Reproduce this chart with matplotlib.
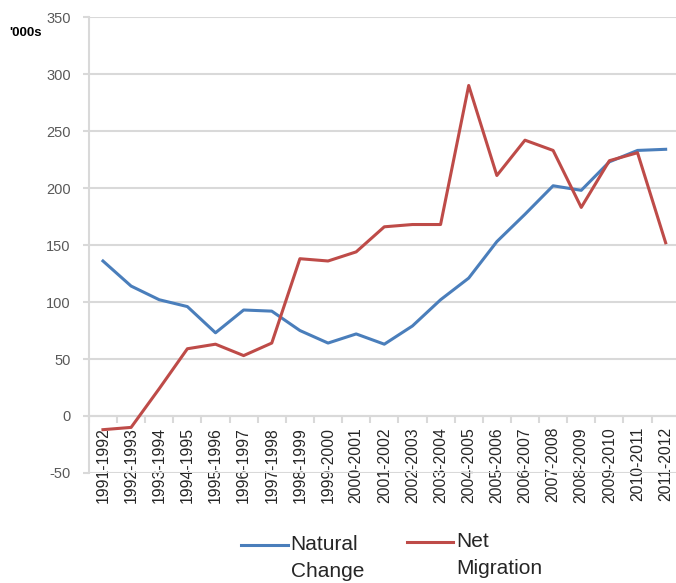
import matplotlib
matplotlib.use('Agg')
import matplotlib.pyplot as plt
from matplotlib.lines import Line2D

periods = ['1991-1992', '1992-1993', '1993-1994', '1994-1995', '1995-1996',
           '1996-1997', '1997-1998', '1998-1999', '1999-2000', '2000-2001',
           '2001-2002', '2002-2003', '2003-2004', '2004-2005', '2005-2006',
           '2006-2007', '2007-2008', '2008-2009', '2009-2010', '2010-2011',
           '2011-2012']
natural_change = [136, 114, 102, 96, 73, 93, 92, 75, 64, 72, 63, 79, 102, 121,
                  153, 177, 202, 198, 223, 233, 234]
net_migration = [-12, -10, 24, 59, 63, 53, 64, 138, 136, 144, 166, 168, 168, 290,
                 211, 242, 233, 183, 224, 231, 152]
y_ticks = [-50, 0, 50, 100, 150, 200, 250, 300, 350]

blue = '#4a7ebb'
red = '#be4b48'
grid_c = '#d9d9d9'
text_c = '#595959'

plt.rcParams['font.family'] = ['Liberation Sans', 'DejaVu Sans']
plt.rcParams['axes.unicode_minus'] = False

fig = plt.figure(figsize=(6.76, 5.83), dpi=100)
ax = fig.add_axes([0.1315, 0.1887, 0.874, 0.782])

x = list(range(len(periods)))
ax.plot(x, natural_change, color=blue, lw=2.2, zorder=3)
ax.plot(x, net_migration, color=red, lw=2.2, zorder=3)

ax.set_xlim(-0.5, len(periods) - 0.5)
ax.set_ylim(-50, 350)
ax.set_yticks(y_ticks)
ax.yaxis.grid(True, color=grid_c, lw=1.5, zorder=0)
ax.set_axisbelow(True)

for s in ['top', 'right']:
    ax.spines[s].set_visible(False)
ax.spines['left'].set_color(grid_c)
ax.spines['left'].set_linewidth(1.5)
ax.spines['bottom'].set_position(('data', 0))
ax.spines['bottom'].set_color(grid_c)
ax.spines['bottom'].set_linewidth(1.5)
ax.spines['bottom'].set_zorder(1)

ax.set_xticks(x)
ax.set_xticklabels(periods, rotation=90, fontsize=11.3, color='#262626')
ax.set_xticks([i - 0.5 for i in range(len(periods) + 1)], minor=True)
ax.tick_params(axis='x', which='major', length=0, pad=8)
ax.tick_params(axis='x', which='minor', length=5, width=1.5, color=grid_c)
ax.tick_params(axis='y', length=4, width=1.5, color=grid_c, pad=9,
               labelsize=10.5, labelcolor=text_c)

fig.text(0.013, 0.944, "'000s", fontsize=9.5, fontweight='bold', va='center')

# legend drawn by hand so the line sits beside the first text line
fig.add_artist(Line2D([0.357, 0.426], [0.065, 0.065], color=blue, lw=2.2))
fig.text(0.430, 0.083, 'Natural\nChange', fontsize=15, color='#262626',
         va='top', ha='left', linespacing=1.58)
fig.add_artist(Line2D([0.602, 0.670], [0.070, 0.070], color=red, lw=2.2))
fig.text(0.675, 0.088, 'Net\nMigration', fontsize=15, color='#262626',
         va='top', ha='left', linespacing=1.58)

fig.savefig('out.png', dpi=100)
